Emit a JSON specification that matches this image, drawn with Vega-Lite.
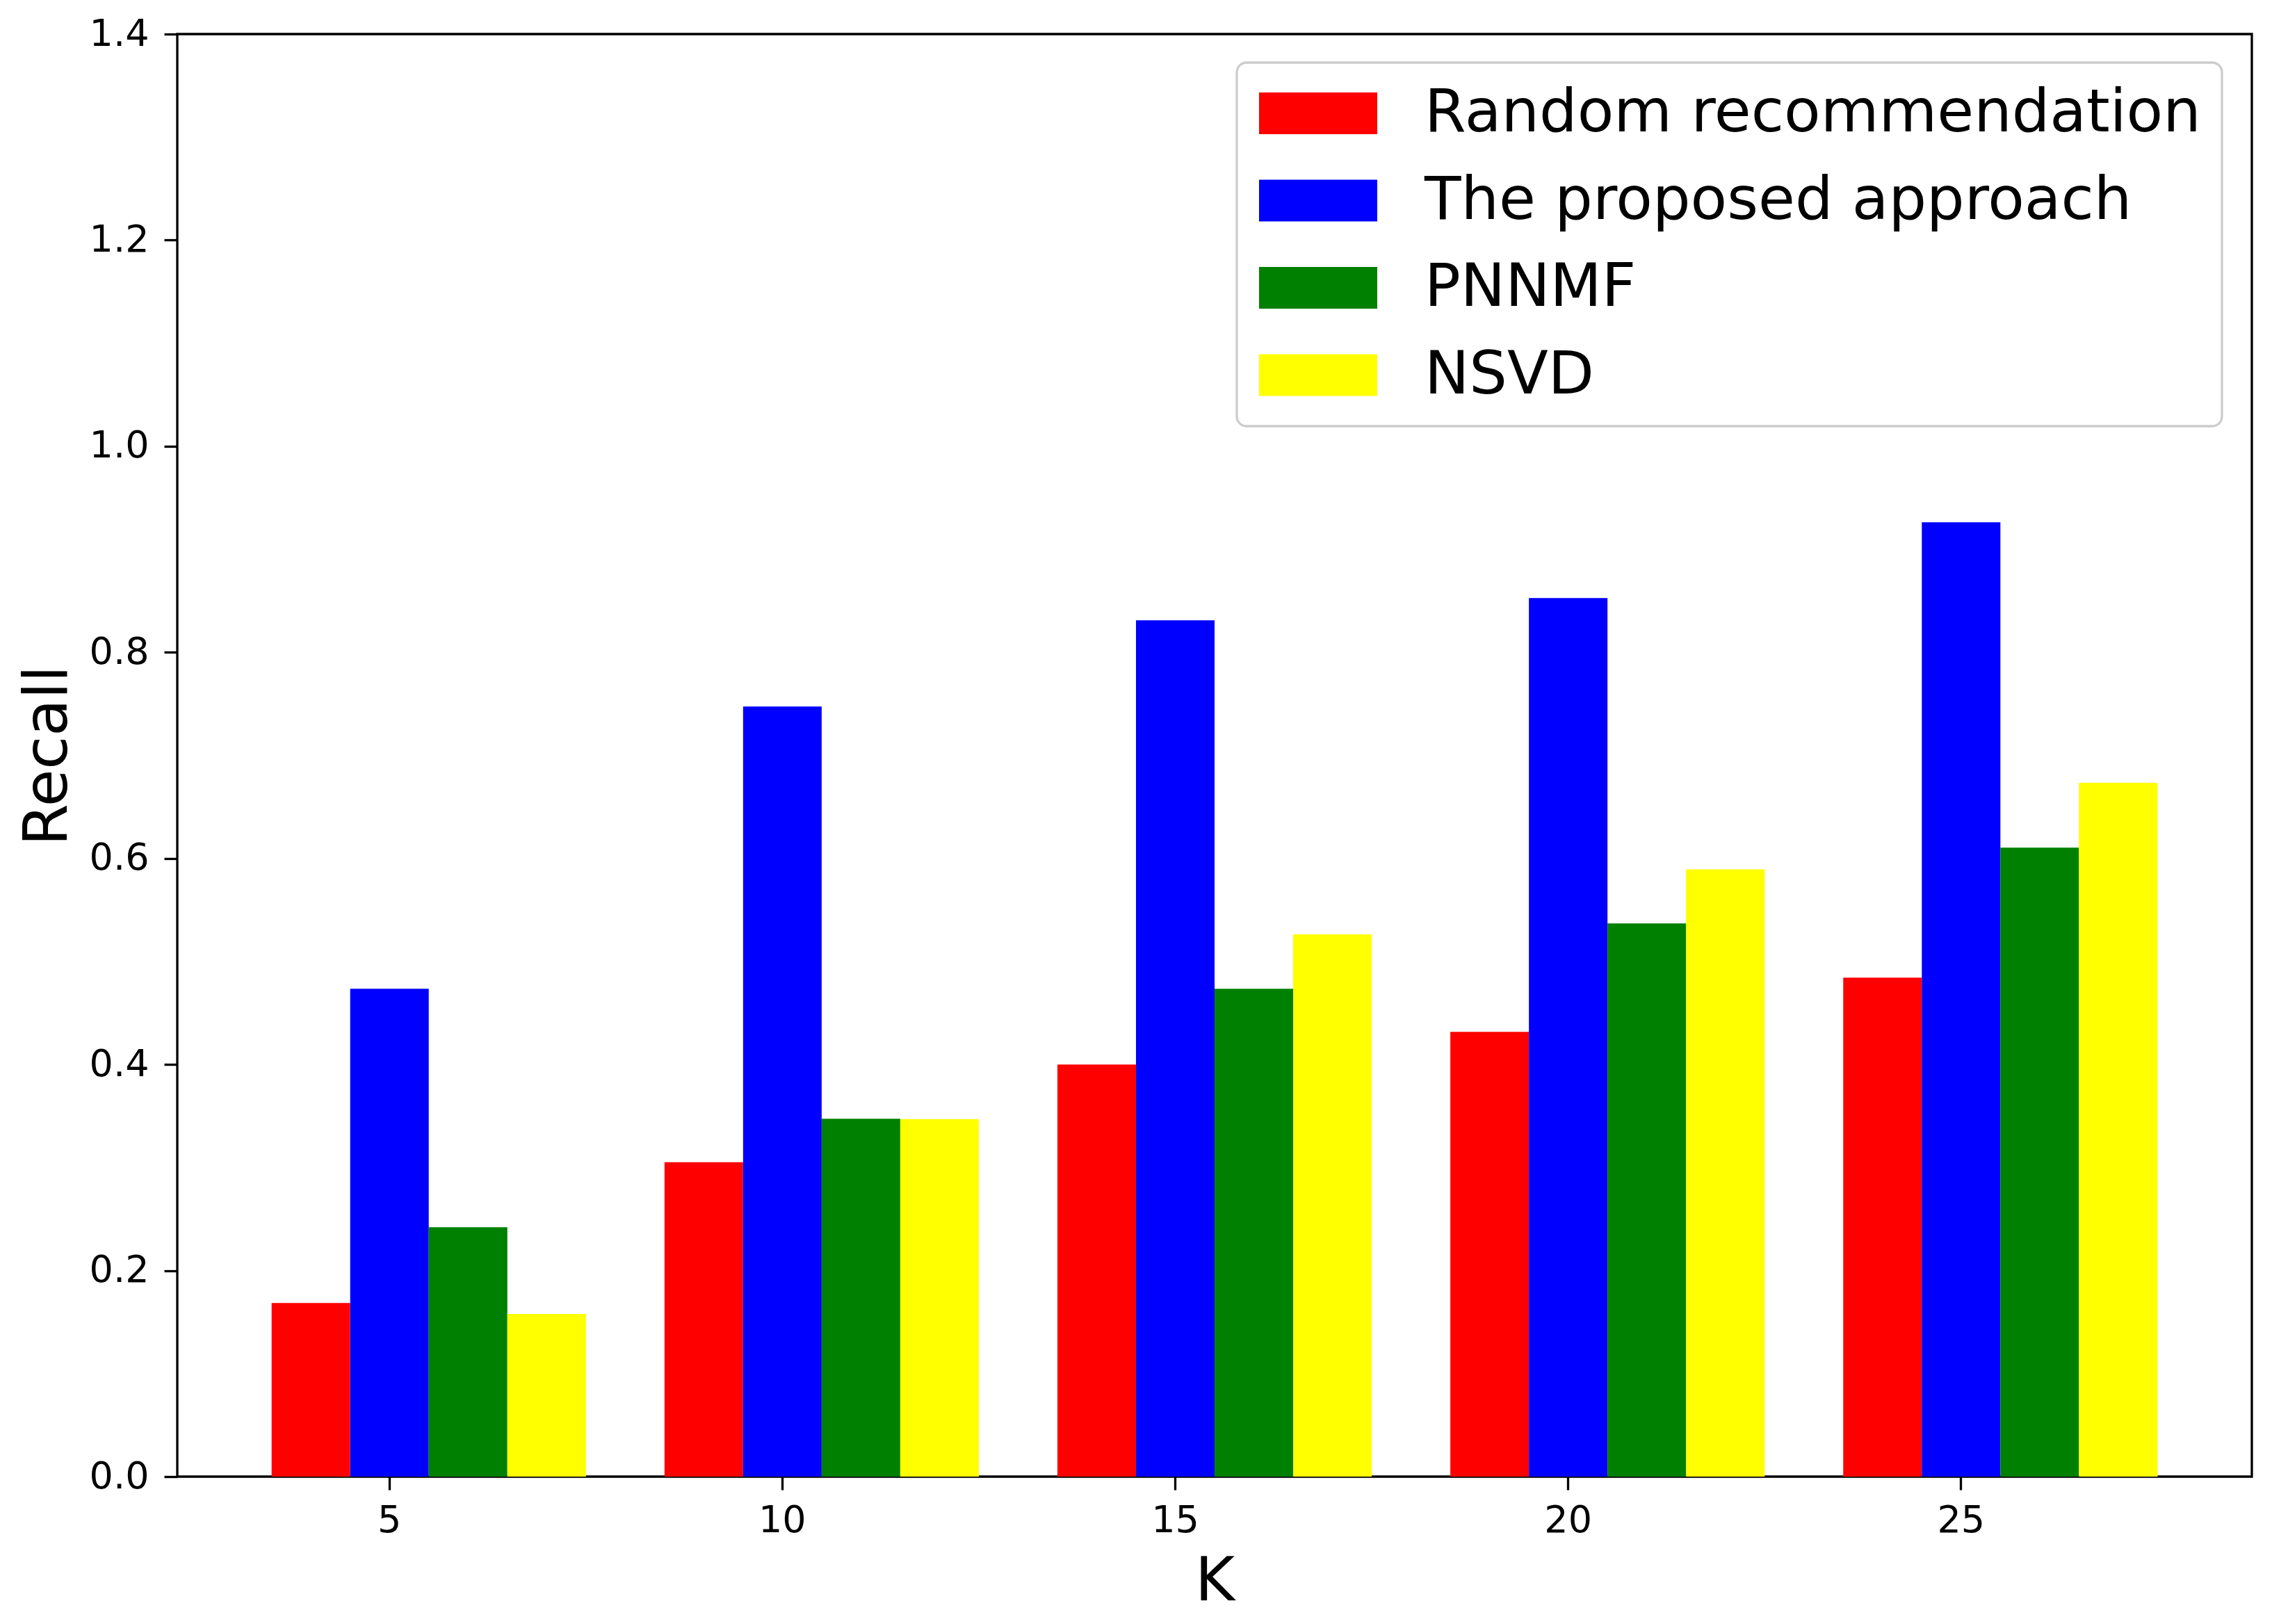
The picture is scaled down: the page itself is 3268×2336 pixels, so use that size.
{
  "$schema": "https://vega.github.io/schema/vega-lite/v6.json",
  "width": 2984,
  "height": 2075,
  "autosize": {"type": "none"},
  "padding": {"left": 255, "top": 49, "right": 29, "bottom": 212},
  "background": "white",
  "config": {
    "font": "DejaVu Sans",
    "view": {"stroke": "black", "strokeWidth": 3.3},
    "axis": {
      "domain": false,
      "grid": false,
      "tickColor": "black",
      "tickWidth": 3.3,
      "tickSize": 19,
      "labelColor": "black",
      "labelFont": "DejaVu Sans",
      "labelFontSize": 54,
      "titleFont": "DejaVu Sans",
      "titleFontSize": 87,
      "titleFontWeight": "normal",
      "titleColor": "black"
    },
    "legend": {"strokeWidth": 3.3}
  },
  "data": {
    "values": [
      {"K": 5, "method": "Random recommendation", "recall": 0.1685},
      {"K": 5, "method": "The proposed approach", "recall": 0.4735},
      {"K": 5, "method": "PNNMF", "recall": 0.2420},
      {"K": 5, "method": "NSVD", "recall": 0.1579},
      {"K": 10, "method": "Random recommendation", "recall": 0.3052},
      {"K": 10, "method": "The proposed approach", "recall": 0.7474},
      {"K": 10, "method": "PNNMF", "recall": 0.3473},
      {"K": 10, "method": "NSVD", "recall": 0.3470},
      {"K": 15, "method": "Random recommendation", "recall": 0.3999},
      {"K": 15, "method": "The proposed approach", "recall": 0.8311},
      {"K": 15, "method": "PNNMF", "recall": 0.4735},
      {"K": 15, "method": "NSVD", "recall": 0.5263},
      {"K": 20, "method": "Random recommendation", "recall": 0.4316},
      {"K": 20, "method": "The proposed approach", "recall": 0.8527},
      {"K": 20, "method": "PNNMF", "recall": 0.5369},
      {"K": 20, "method": "NSVD", "recall": 0.5893},
      {"K": 25, "method": "Random recommendation", "recall": 0.4843},
      {"K": 25, "method": "The proposed approach", "recall": 0.9262},
      {"K": 25, "method": "PNNMF", "recall": 0.6104},
      {"K": 25, "method": "NSVD", "recall": 0.6734}
    ]
  },
  "mark": {"type": "bar"},
  "encoding": {
    "x": {
      "field": "K",
      "type": "ordinal",
      "scale": {"type": "band", "domain": [5, 10, 15, 20, 25], "paddingInner": 0, "paddingOuter": 0.14, "align": 0.143},
      "axis": {"title": "K", "labelAngle": 0, "labelPadding": 17, "titleBaseline": "alphabetic", "titleY": 177}
    },
    "xOffset": {
      "field": "method",
      "type": "nominal",
      "scale": {"domain": ["_pad", "Random recommendation", "The proposed approach", "PNNMF", "NSVD"], "paddingInner": 0, "paddingOuter": 0}
    },
    "y": {
      "field": "recall",
      "type": "quantitative",
      "scale": {"domain": [0, 1.4], "nice": false},
      "axis": {
        "title": "Recall",
        "values": [0, 0.2, 0.4, 0.6, 0.8, 1.0, 1.2, 1.4],
        "format": ".1f",
        "labelPadding": 22,
        "titleBaseline": "alphabetic",
        "titleX": -160,
        "titleY": 1037.5,
        "titleAngle": 270
      }
    },
    "color": {
      "field": "method",
      "type": "nominal",
      "scale": {
        "domain": ["Random recommendation", "The proposed approach", "PNNMF", "NSVD"],
        "range": ["#ff0000", "#0000ff", "#008000", "#ffff00"]
      },
      "legend": {
        "title": null,
        "orient": "none",
        "legendX": 1524,
        "legendY": 41,
        "symbolType": "M-1.977,-0.698H1.977V0.698H-1.977Z",
        "symbolSize": 7396,
        "symbolOffset": 44,
        "symbolStrokeWidth": 0,
        "symbolOpacity": 1,
        "labelFontSize": 86,
        "labelFont": "DejaVu Sans",
        "labelColor": "black",
        "labelOffset": 110,
        "labelLimit": 2000,
        "rowPadding": 39.5,
        "padding": 30,
        "strokeColor": "#cccccc",
        "fillColor": "rgba(255,255,255,0.8)",
        "cornerRadius": 14
      }
    }
  }
}
